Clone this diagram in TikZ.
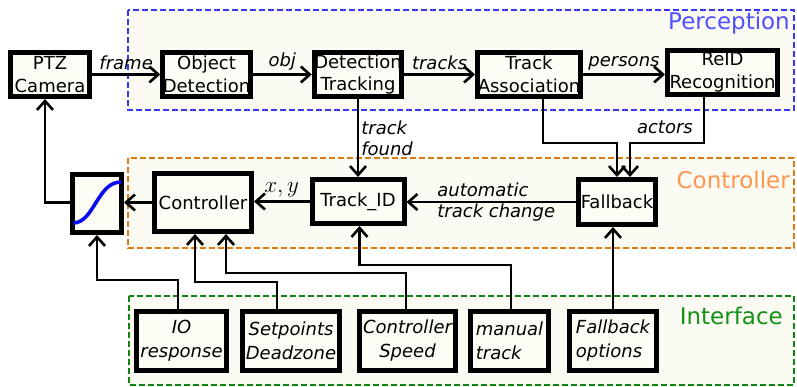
\documentclass[tikz,border=0pt]{standalone}
\usepackage{fix-cm}
\usepackage{fontspec}
\setmainfont{DejaVu Sans}
\usetikzlibrary{arrows.meta,calc}

\definecolor{boxfill}{RGB}{253,253,246}
\definecolor{zonefill}{RGB}{251,251,244}
\definecolor{percline}{RGB}{55,55,245}
\definecolor{perctext}{RGB}{80,80,255}
\definecolor{ctrlline}{RGB}{220,125,15}
\definecolor{ctrltext}{RGB}{255,150,80}
\definecolor{ifline}{RGB}{15,135,15}
\definecolor{iftext}{RGB}{20,145,20}
\definecolor{curveblue}{RGB}{10,10,240}

\begin{document}
\begin{tikzpicture}[x=1pt,y=-1pt,
  font=\fontsize{18}{22.5}\selectfont,
  blk/.style={draw, line width=5pt, fill=boxfill, inner sep=0pt, align=center},
  ublk/.style={blk, line width=5.4pt, minimum height=58.6pt,
    font=\fontsize{18}{24}\selectfont\itshape},
  conn/.style={line width=2.6pt, -{Straight Barb[length=9pt,width=16pt]}},
  lbl/.style={font=\fontsize{18}{21}\selectfont\itshape, inner sep=3pt},
  zone/.style={dash pattern=on 6pt off 3pt, line width=2.5pt, fill=zonefill},
  zonetitle/.style={font=\fontsize{23}{27}\selectfont, inner sep=0pt, anchor=base east}]

\useasboundingbox (0,0) rectangle (797,387);
\fill[white] (0,0) rectangle (797,387);

% dashed zones
\draw[zone, draw=percline] (128,10) rectangle (794,110);
\draw[zone, draw=ctrlline] (128,158) rectangle (794,248);
\draw[zone, draw=ifline] (129,296) rectangle (794,385);
\node[zonetitle, text=perctext] (tperc) at (790,30) {Perception};
\node[zonetitle, text=ctrltext] (tctrl) at (790,189) {Controller};
\node[zonetitle, text=iftext] (tif) at (783,324) {Interface};

% perception chain
\node[blk, minimum width=79pt, minimum height=44pt] (ptz) at (50,74.5) {PTZ\\Camera};
\node[blk, minimum width=86pt, minimum height=44pt] (od) at (206.5,74.5) {Object\\Detection};
\node[blk, minimum width=86pt, minimum height=44pt] (dt) at (358,74.5) {Detection\\Tracking};
\node[blk, minimum width=103pt, minimum height=44pt] (ta) at (529,74.5) {Track\\Association};
\node[blk, minimum width=110pt, minimum height=44pt] (reid) at (722.5,72.5) {ReID\\Recognition};

% controller chain
\node[blk, minimum width=49pt, minimum height=58pt] (sig) at (97,203.5) {};
\node[blk, minimum width=97pt, minimum height=58pt] (ctrl) at (203,202.5) {Controller};
\node[blk, minimum width=92pt, minimum height=44pt] (tid) at (358,201.5) {Track\_ID};
\node[blk, minimum width=77pt, minimum height=45pt] (fb) at (617,202) {Fallback};

% response curve
\draw[curveblue, line width=3.6pt]
  (73,223) .. controls (84,223) and (90,212) .. (97,201)
  .. controls (104,190) and (110,182) .. (121.5,182);

% interface boxes
\node[ublk, minimum width=89.6pt] (io) at (181.5,341) {IO\\response};
\node[ublk, minimum width=96.6pt] (sp) at (291,341) {Setpoints\\Deadzone};
\node[ublk, minimum width=95.6pt] (cs) at (407.5,341) {Controller\\Speed};
\node[ublk, minimum width=77.6pt, align=left] (mt) at (509.5,341) {manual\\track};
\node[ublk, minimum width=86.6pt, align=left] (fo) at (613,341) {Fallback\\options};

% perception connectors
\draw[conn] (ptz.east) -- node[lbl, above] (lframe) {frame} (od.west);
\draw[conn] (od.east) -- node[lbl, above] (lobj) {obj} (dt.west);
\draw[conn] (dt.east) -- node[lbl, above] (ltracks) {tracks} (ta.west);
\draw[conn] (ta.east) -- node[lbl, above] (lpersons) {persons} (ta.east -| reid.west);

\draw[conn] (dt.south) -- node[lbl, right, align=left, inner sep=2pt] (lfound) {track\\found} (tid.north);
\draw[conn] ([xshift=14pt]ta.south) |- ([yshift=34pt]fb.north) -- (fb.north);
\draw[conn] ([xshift=-18.5pt]reid.south) |- ([xshift=13pt,yshift=34pt]fb.north) -- ([xshift=13pt]fb.north);
\node[lbl, anchor=east] (lactors) at (696,127) {actors};

% controller connectors
\draw[conn] (fb.west) -- node[lbl, midway, xshift=5pt, align=left] (lauto) {automatic\\track change} (tid.east |- fb.west);
\draw[conn] (tid.west) -- node[above, inner sep=3pt, font=\fontsize{23}{27}\selectfont] (lxy) {$x,y$} (ctrl.east |- tid.west);
\draw[conn] (ctrl.west) -- (sig.east |- ctrl.west);
\draw[conn] (sig.west |- ctrl.west) -| ([xshift=-5pt]ptz.south);

% interface connectors
\draw[conn] ([xshift=-3.5pt]io.north) |- ([yshift=-45pt]sig.south) -- (sig.south);
\draw[conn] ([xshift=-14pt]sp.north) |- ([xshift=-8pt,yshift=-48pt]ctrl.south) -- ([xshift=-8pt]ctrl.south);
\draw[conn] ([xshift=-1.5pt]cs.north) |- ([xshift=23pt,yshift=-39pt]ctrl.south) -- ([xshift=23pt]ctrl.south);
\draw[conn] ([xshift=1.5pt]mt.north) |- ([xshift=1.5pt,yshift=-39pt]tid.south) -- ([xshift=1.5pt]tid.south);
\draw[conn] (fo.north) -- (fo.north |- fb.south);

\end{tikzpicture}
\end{document}
